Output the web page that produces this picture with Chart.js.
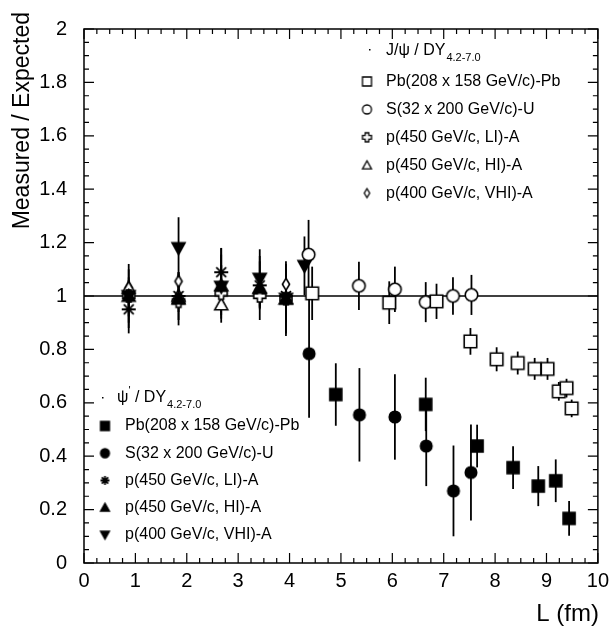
<!DOCTYPE html>
<html>
<head>
<meta charset="utf-8">
<script src="https://cdn.jsdelivr.net/npm/chart.js@4.4.1/dist/chart.umd.min.js"></script>
<style>
  html, body { margin: 0; padding: 0; background: #fff; }
  canvas { display: block; }
</style>
</head>
<body>
<canvas id="psiChart" width="615" height="630"></canvas>
<script>
// ---- J/psi / DY (open markers) ----
const jpsiPbL = [4.44, 5.94, 6.86, 7.52, 8.03, 8.44, 8.77, 9.02, 9.24, 9.39, 9.49];
const jpsiPbV = [1.01, 0.975, 0.98, 0.83, 0.763, 0.749, 0.727, 0.727, 0.643, 0.655, 0.579];
const jpsiPbE = [0.10, 0.08, 0.066, 0.05, 0.045, 0.043, 0.041, 0.041, 0.035, 0.035, 0.033];

const jpsiSL = [4.37, 5.35, 6.05, 6.65, 7.18, 7.54];
const jpsiSV = [1.155, 1.038, 1.025, 0.977, 1.0, 1.004];
const jpsiSE = [0.13, 0.09, 0.085, 0.075, 0.07, 0.075];

const pAL = [0.87, 1.84, 2.67, 3.42, 3.93];
const jpsiLIV = [1.0, 0.98, 1.01, 1.0, 0.99];
const jpsiLIE = [0.04, 0.04, 0.04, 0.04, 0.04];
const jpsiHIV = [1.03, 1.0, 0.968, 1.03, 0.99];
const jpsiHIE = [0.04, 0.04, 0.04, 0.04, 0.04];
const jpsiVHIV = [1.03, 1.055, 1.03, 1.02, 1.044];
const jpsiVHIE = [0.03, 0.03, 0.03, 0.03, 0.03];

// ---- psi' / DY (filled markers) ----
const psiPbL = [4.9, 6.65, 7.65, 8.35, 8.84, 9.18, 9.44];
const psiPbV = [0.631, 0.594, 0.438, 0.357, 0.288, 0.308, 0.167];
const psiPbE = [0.117, 0.10, 0.08, 0.08, 0.075, 0.08, 0.065];

const psiSL = [4.38, 5.36, 6.05, 6.66, 7.19, 7.53];
const psiSV = [0.784, 0.555, 0.547, 0.438, 0.27, 0.339];
const psiSE = [0.24, 0.175, 0.16, 0.15, 0.17, 0.18];

const psiLIV = [0.95, 1.0, 1.089, 1.04, 1.0];
const psiLIE = [0.09, 0.09, 0.09, 0.09, 0.10];
const psiHIV = [1.0, 0.99, 1.04, 1.03, 0.99];
const psiHIE = [0.12, 0.10, 0.14, 0.12, 0.13];
const psiVHIL = [0.87, 1.84, 2.67, 3.42, 3.93, 4.29];
const psiVHIV = [1.0, 1.18, 1.035, 1.065, 0.99, 1.113];
const psiVHIE = [0.10, 0.115, 0.12, 0.11, 0.14, 0.11];

const legendTop = ["Pb(208 x 158 GeV/c)-Pb", "S(32 x 200 GeV/c)-U", "p(450 GeV/c, LI)-A", "p(450 GeV/c, HI)-A", "p(400 GeV/c, VHI)-A"];
const legendBottom = legendTop;

const FONT = "'Liberation Sans', Arial, sans-serif";

// marker pictures drawn on small canvases
function makeMarker(kind, s) {
  const c = document.createElement("canvas");
  c.width = c.height = Math.ceil(s) + 4;
  const g = c.getContext("2d");
  const m = c.width / 2, h = s / 2;
  const open = kind.startsWith("o");
  g.lineWidth = s > 10 ? 1.6 : 1.3;
  g.strokeStyle = "#000";
  g.fillStyle = open ? "#fff" : "#000";
  g.beginPath();
  const k = kind.slice(1);
  if (k === "square") g.rect(m - h, m - h, s, s);
  else if (k === "circle") g.arc(m, m, h, 0, 2 * Math.PI);
  else if (k === "triUp") { g.moveTo(m, m - h); g.lineTo(m + h, m + h * 0.8); g.lineTo(m - h, m + h * 0.8); g.closePath(); }
  else if (k === "triDown") { g.moveTo(m, m + h); g.lineTo(m + h, m - h * 0.8); g.lineTo(m - h, m - h * 0.8); g.closePath(); }
  else if (k === "diamond") { g.moveTo(m, m - h); g.lineTo(m + h * 0.6, m); g.lineTo(m, m + h); g.lineTo(m - h * 0.6, m); g.closePath(); }
  else if (k === "cross") {
    const a = h * 0.4;
    g.moveTo(m - a, m - h); g.lineTo(m + a, m - h); g.lineTo(m + a, m - a); g.lineTo(m + h, m - a);
    g.lineTo(m + h, m + a); g.lineTo(m + a, m + a); g.lineTo(m + a, m + h); g.lineTo(m - a, m + h);
    g.lineTo(m - a, m + a); g.lineTo(m - h, m + a); g.lineTo(m - h, m - a); g.lineTo(m - a, m - a); g.closePath();
  } else if (k === "star") {
    for (let i = 0; i < 4; i++) {
      const ang = i * Math.PI / 4;
      g.moveTo(m - h * Math.cos(ang), m - h * Math.sin(ang));
      g.lineTo(m + h * Math.cos(ang), m + h * Math.sin(ang));
    }
    g.lineWidth = 1.8;
    g.stroke();
    return c;
  }
  g.fill();
  g.stroke();
  return c;
}

function series(label, xs, ys, errs, kind, size) {
  return {
    label: label,
    data: xs.map((x, i) => ({ x: x, y: ys[i] })),
    errors: errs,
    pointStyle: makeMarker(kind, size),
    legendStyle: makeMarker(kind, 9),
    showLine: false
  };
}

const psiSets = [
  series(legendBottom[0], psiPbL, psiPbV, psiPbE, "fsquare", 12),
  series(legendBottom[1], psiSL, psiSV, psiSE, "fcircle", 11.5),
  series(legendBottom[2], pAL, psiLIV, psiLIE, "fstar", 14),
  series(legendBottom[3], pAL, psiHIV, psiHIE, "ftriUp", 13),
  series(legendBottom[4], psiVHIL, psiVHIV, psiVHIE, "ftriDown", 13)
];
const jpsiSets = [
  series(legendTop[0], jpsiPbL, jpsiPbV, jpsiPbE, "osquare", 12.5),
  series(legendTop[1], jpsiSL, jpsiSV, jpsiSE, "ocircle", 12.5),
  series(legendTop[2], pAL, jpsiLIV, jpsiLIE, "ocross", 12),
  series(legendTop[3], pAL, jpsiHIV, jpsiHIE, "otriUp", 13),
  series(legendTop[4], pAL, jpsiVHIV, jpsiVHIE, "odiamond", 12)
];

function drawHeader(ctx, x, y, isPrime) {
  ctx.font = "16px " + FONT;
  ctx.textAlign = "left";
  ctx.textBaseline = "middle";
  let cx = x;
  if (isPrime) {
    ctx.fillText("ψ", cx, y);
    cx += ctx.measureText("ψ").width;
    ctx.font = "11px " + FONT;
    ctx.fillText("'", cx, y - 7);
    cx += ctx.measureText("'").width;
    ctx.font = "16px " + FONT;
    ctx.fillText(" / DY", cx, y);
    cx += ctx.measureText(" / DY").width;
  } else {
    ctx.fillText("J/ψ / DY", cx, y);
    cx += ctx.measureText("J/ψ / DY").width;
  }
  ctx.font = "11px " + FONT;
  ctx.fillText("4.2-7.0", cx + 1, y + 7);
}

const framePlugin = {
  id: "frame",
  beforeDatasetsDraw(chart) {
    const ctx = chart.ctx, xs = chart.scales.x, ys = chart.scales.y;
    const a = chart.chartArea;
    ctx.save();
    // reference line at 1
    ctx.strokeStyle = "#000";
    ctx.lineWidth = 1.5;
    ctx.beginPath();
    ctx.moveTo(a.left, ys.getPixelForValue(1));
    ctx.lineTo(a.right, ys.getPixelForValue(1));
    ctx.stroke();
    // error bars
    ctx.lineWidth = 1.8;
    chart.data.datasets.forEach(ds => {
      ds.data.forEach((p, i) => {
        const e = ds.errors[i];
        const px = xs.getPixelForValue(p.x);
        ctx.beginPath();
        ctx.moveTo(px, ys.getPixelForValue(Math.max(0, p.y - e)));
        ctx.lineTo(px, ys.getPixelForValue(p.y + e));
        ctx.stroke();
      });
    });
    ctx.restore();
  },
  afterDraw(chart) {
    const ctx = chart.ctx, xs = chart.scales.x, ys = chart.scales.y;
    const a = chart.chartArea;
    ctx.save();
    ctx.strokeStyle = "#000";
    ctx.fillStyle = "#000";
    ctx.lineWidth = 1.5;
    ctx.strokeRect(a.left, a.top, a.right - a.left, a.bottom - a.top);
    // inside ticks on all four sides
    ctx.lineWidth = 1.2;
    ctx.beginPath();
    for (let i = 0; i <= 40; i++) {
      const v = i * 0.25;
      const px = xs.getPixelForValue(v);
      const len = i % 4 === 0 ? 10 : 5;
      ctx.moveTo(px, a.bottom); ctx.lineTo(px, a.bottom - len);
      ctx.moveTo(px, a.top); ctx.lineTo(px, a.top + len);
    }
    for (let i = 0; i <= 40; i++) {
      const v = i * 0.05;
      const py = ys.getPixelForValue(v);
      const len = i % 4 === 0 ? 10 : 5;
      ctx.moveTo(a.left, py); ctx.lineTo(a.left + len, py);
      ctx.moveTo(a.right, py); ctx.lineTo(a.right - len, py);
    }
    ctx.stroke();

    // axis titles
    ctx.font = "23px " + FONT;
    ctx.textBaseline = "middle";
    ctx.save();
    ctx.translate(23, 12);
    ctx.rotate(-Math.PI / 2);
    ctx.textAlign = "right";
    ctx.fillText("Measured / Expected", 0, 0);
    ctx.restore();
    ctx.font = "24px " + FONT;
    ctx.textAlign = "right";
    ctx.fillText("L (fm)", 599, 614);

    // legends
    ctx.fillRect(369, 49, 1.5, 1.5);
    drawHeader(ctx, 386, 51, false);
    jpsiSets.forEach((ds, i) => {
      const y = 81.5 + i * 27.9;
      const img = ds.legendStyle;
      ctx.drawImage(img, 367 - img.width / 2, y - img.height / 2);
      ctx.font = "16px " + FONT;
      ctx.textAlign = "left";
      ctx.fillText(ds.label, 386, y);
    });
    ctx.fillRect(102, 397, 1.5, 1.5);
    drawHeader(ctx, 117, 398, true);
    psiSets.forEach((ds, i) => {
      const y = 426 + i * 27.2;
      const img = ds.legendStyle;
      ctx.drawImage(img, 105 - img.width / 2, y - img.height / 2);
      ctx.font = "16px " + FONT;
      ctx.textAlign = "left";
      ctx.fillText(ds.label, 125, y);
    });
    ctx.restore();
  }
};

new Chart(document.getElementById("psiChart"), {
  type: "scatter",
  data: { datasets: psiSets.concat(jpsiSets) },
  options: {
    responsive: false,
    animation: false,
    layout: { padding: { top: 11, right: 14, left: 0, bottom: 0 } },
    plugins: { legend: { display: false }, tooltip: { enabled: false } },
    scales: {
      x: {
        type: "linear",
        min: 0, max: 10,
        grid: { display: false, drawTicks: false },
        border: { display: false },
        ticks: { stepSize: 1, color: "#000", padding: 6, font: { size: 20, family: FONT } },
        afterFit: s => { s.height = 67; }
      },
      y: {
        min: 0, max: 2,
        grid: { display: false, drawTicks: false },
        border: { display: false },
        ticks: {
          stepSize: 0.2, color: "#000", padding: 17, font: { size: 20, family: FONT },
          callback: v => String(+v.toFixed(2))
        },
        afterFit: s => { s.width = 84; }
      }
    }
  },
  plugins: [framePlugin]
});
</script>
</body>
</html>
